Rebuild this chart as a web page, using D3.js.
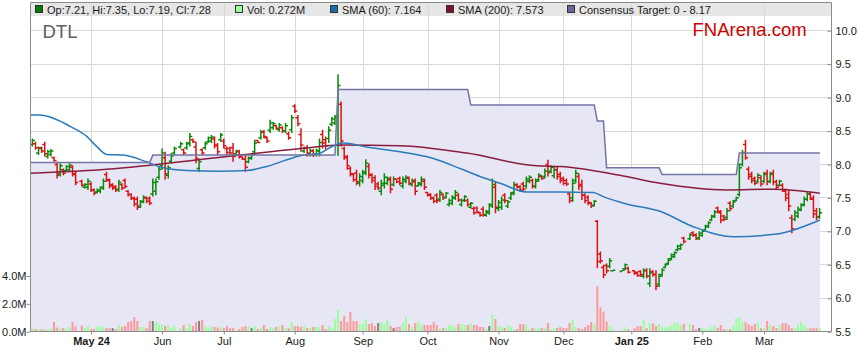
<!DOCTYPE html>
<html>
<head>
<meta charset="utf-8">
<script src="https://cdn.jsdelivr.net/npm/d3@7"></script>
<style>
  html, body { margin: 0; padding: 0; background: #fff; }
  svg { display: block; font-family: 'Liberation Sans', Arial, sans-serif; }
</style>
</head>
<body>
<svg id="chart" width="859" height="363"></svg>
<script>
// daily bars, one slot per weekday from 4 Apr 2024 (null = ASX holiday)
const opens = [
  8.30,8.31,8.17,8.25,8.30,8.12,8.15,8.10,8.00,7.86,
  7.92,7.91,7.92,7.96,7.85,null,7.75,7.66,7.66,7.71,
  7.62,7.59,7.60,7.66,7.85,7.76,7.70,7.67,7.63,7.70,
  7.76,7.60,7.55,7.49,7.48,7.38,7.45,7.50,7.49,7.56,
  7.60,7.81,7.98,8.10,7.84,8.05,8.17,null,8.26,8.22,
  8.25,8.32,8.37,8.26,7.94,8.22,8.25,8.34,8.35,8.38,
  8.28,8.37,8.35,8.24,8.24,8.25,8.16,8.19,8.11,8.08,
  8.04,8.09,8.19,8.36,8.40,8.49,8.40,8.51,8.55,8.58,
  8.52,8.55,8.50,8.46,8.52,8.87,8.70,8.45,8.20,8.25,
  8.15,8.20,8.15,8.20,8.45,8.37,8.39,8.60,8.62,8.72,
  8.90,8.24,8.10,7.94,7.85,7.87,7.72,7.76,7.89,7.97,
  7.84,7.80,7.71,7.60,7.69,7.72,7.77,7.70,7.78,7.79,
  7.68,7.75,7.79,7.70,7.74,7.68,7.70,7.75,7.58,7.55,
  7.50,7.54,7.48,7.55,7.51,7.40,7.42,7.50,7.54,7.40,
  7.46,7.46,7.36,7.34,7.35,7.28,7.33,7.24,7.28,7.40,
  7.66,7.34,7.36,7.54,7.38,7.50,7.58,7.70,7.67,7.71,
  7.68,7.75,7.76,7.67,7.77,7.82,7.82,8.00,7.90,7.83,
  7.92,7.85,7.79,7.76,7.56,7.50,7.76,7.82,7.70,7.54,
  7.51,7.42,7.39,7.15,6.66,6.46,6.49,6.48,6.41,null,
  null,6.40,6.44,6.45,null,6.41,6.39,6.40,6.33,6.42,
  6.22,6.40,6.36,6.21,6.35,6.46,6.52,6.59,6.62,6.72,
  6.74,6.90,null,6.89,6.98,6.95,6.90,6.94,7.02,7.07,
  7.17,7.22,7.35,7.28,7.23,7.21,7.42,7.38,7.46,7.55,
  8.00,8.30,7.93,7.85,7.79,7.75,7.80,7.75,7.87,7.75,
  7.87,7.74,7.69,7.69,7.60,7.55,7.20,7.18,7.23,7.32,
  7.40,7.48,7.56,7.48,7.31,7.21
];
const highs = [
  8.39,8.34,8.27,8.27,8.34,8.22,8.23,8.12,8.04,8.02,
  7.94,7.99,8.02,7.99,7.89,null,7.77,7.72,7.79,7.74,
  7.64,7.64,7.67,7.79,7.89,7.79,7.72,7.69,7.77,7.72,
  7.79,7.62,7.57,7.52,7.52,7.47,7.54,7.52,7.52,7.79,
  7.79,7.97,8.24,8.19,7.99,8.17,8.27,null,8.34,8.24,
  8.34,8.47,8.39,8.34,8.09,8.24,8.34,8.42,8.44,8.42,
  8.32,8.47,8.39,8.27,8.27,8.32,8.22,8.22,8.12,8.14,
  8.12,8.17,8.37,8.37,8.52,8.52,8.42,8.67,8.64,8.59,
  8.62,8.57,8.62,8.49,8.74,8.90,8.74,8.54,8.27,8.29,
  8.24,8.23,8.24,8.39,8.52,8.42,8.57,8.71,8.74,9.35,
  8.94,8.27,8.14,7.97,7.87,7.92,7.87,7.92,8.08,8.02,
  7.87,7.84,7.74,7.77,7.87,7.82,7.82,7.82,7.79,7.82,
  7.82,7.84,7.82,7.79,7.79,7.74,7.82,7.79,7.59,7.57,
  7.52,7.57,7.62,7.57,7.59,7.49,7.54,7.62,7.57,7.49,
  7.54,7.49,7.44,7.37,7.37,7.29,7.37,7.32,7.42,7.79,
  7.74,7.47,7.52,7.57,7.47,7.59,7.74,7.72,7.69,7.74,
  7.82,7.84,7.79,7.79,7.87,7.84,7.94,8.07,7.99,7.97,
  7.97,7.89,7.82,7.79,7.59,7.79,7.92,7.87,7.77,7.57,
  7.54,7.44,7.47,7.17,6.70,6.50,6.52,6.60,6.42,null,
  null,6.42,6.52,6.47,null,6.42,6.40,6.42,6.45,6.45,
  6.45,6.42,6.42,6.37,6.45,6.52,6.60,6.67,6.70,6.80,
  6.82,6.92,null,6.97,7.00,6.97,7.00,7.02,7.10,7.15,
  7.25,7.32,7.37,7.32,7.25,7.35,7.45,7.47,7.52,8.02,
  8.22,8.37,7.97,7.89,7.82,7.87,7.84,7.89,7.92,7.89,
  7.92,7.77,7.77,7.72,7.64,7.62,7.25,7.32,7.37,7.42,
  7.52,7.59,7.59,7.54,7.35,7.35
];
const lows = [
  8.27,8.22,8.14,8.17,8.12,8.09,8.12,8.04,7.79,7.82,
  7.84,7.89,7.89,7.82,7.69,null,7.67,7.64,7.62,7.59,
  7.54,7.57,7.57,7.62,7.74,7.64,7.62,7.59,7.59,7.62,
  7.64,7.52,7.47,7.37,7.32,7.35,7.42,7.42,7.39,7.52,
  7.54,7.77,7.92,7.77,7.79,8.02,8.14,null,8.24,8.14,
  8.22,8.27,8.32,8.02,7.89,8.14,8.22,8.32,8.32,8.24,
  8.14,8.34,8.24,8.14,8.14,8.04,8.14,8.09,8.07,7.89,
  8.02,8.07,8.14,8.32,8.37,8.39,8.32,8.47,8.52,8.52,
  8.49,8.47,8.47,8.37,8.47,8.77,8.57,8.19,8.17,8.12,
  8.12,8.11,8.12,8.12,8.24,8.22,8.32,8.57,8.59,8.13,
  8.27,8.07,7.92,7.82,7.74,7.69,7.67,7.72,7.84,7.79,
  7.72,7.62,7.62,7.54,7.64,7.69,7.57,7.67,7.72,7.69,
  7.64,7.72,7.69,7.67,7.54,7.67,7.67,7.62,7.52,7.47,
  7.42,7.42,7.44,7.47,7.49,7.37,7.39,7.47,7.44,7.37,
  7.44,7.37,7.34,7.25,7.27,7.22,7.22,7.22,7.25,7.35,
  7.27,7.30,7.32,7.42,7.35,7.47,7.54,7.64,7.59,7.59,
  7.64,7.72,7.64,7.64,7.74,7.77,7.79,7.82,7.87,7.79,
  7.77,7.72,7.69,7.68,7.42,7.44,7.72,7.62,7.47,7.42,
  7.39,7.35,7.37,6.45,6.52,6.30,6.37,6.45,6.40,null,
  null,6.40,6.42,6.37,null,6.35,6.32,6.32,6.30,6.30,
  6.17,6.32,6.12,6.17,6.32,6.45,6.50,6.57,6.60,6.70,
  6.72,6.82,null,6.87,6.92,6.87,6.87,6.92,7.00,7.05,
  7.15,7.20,7.27,7.12,7.15,7.17,7.30,7.35,7.45,7.52,
  7.97,8.07,7.77,7.72,7.69,7.72,7.67,7.72,7.69,7.72,
  7.69,7.62,7.67,7.59,7.45,7.30,6.97,7.15,7.20,7.30,
  7.37,7.45,7.47,7.20,7.17,7.19
];
const closes = [
  8.36,8.25,8.24,8.20,8.16,8.19,8.20,8.06,7.84,7.98,
  7.87,7.97,7.99,7.86,7.73,null,7.69,7.70,7.75,7.62,
  7.57,7.62,7.65,7.75,7.77,7.68,7.65,7.62,7.73,7.65,
  7.67,7.55,7.50,7.41,7.36,7.44,7.51,7.45,7.42,7.73,
  7.74,7.93,8.17,7.86,7.95,8.13,8.24,null,8.31,8.17,
  8.31,8.42,8.34,8.09,8.04,8.17,8.31,8.40,8.41,8.29,
  8.19,8.44,8.28,8.18,8.17,8.12,8.20,8.12,8.08,7.96,
  8.10,8.15,8.32,8.33,8.48,8.42,8.35,8.62,8.61,8.54,
  8.59,8.50,8.58,8.40,8.70,8.80,8.61,8.29,8.25,8.17,
  8.21,8.15,8.21,8.33,8.32,8.28,8.51,8.68,8.70,9.18,
  8.35,8.12,7.98,7.86,7.77,7.74,7.82,7.87,8.02,7.85,
  7.76,7.67,7.65,7.72,7.81,7.79,7.63,7.78,7.74,7.72,
  7.78,7.81,7.72,7.76,7.60,7.72,7.78,7.66,7.54,7.50,
  7.45,7.46,7.58,7.50,7.57,7.46,7.51,7.58,7.47,7.46,
  7.52,7.40,7.42,7.28,7.29,7.24,7.25,7.30,7.38,7.70,
  7.36,7.43,7.47,7.46,7.44,7.56,7.69,7.66,7.62,7.63,
  7.78,7.81,7.68,7.75,7.84,7.79,7.90,7.88,7.96,7.92,
  7.82,7.76,7.72,7.71,7.46,7.72,7.87,7.68,7.54,7.46,
  7.43,7.38,7.45,6.55,6.56,6.35,6.41,6.56,6.42,null,
  null,6.42,6.50,6.39,null,6.37,6.34,6.35,6.41,6.33,
  6.38,6.35,6.18,6.33,6.42,6.50,6.57,6.65,6.68,6.78,
  6.80,6.85,null,6.95,6.94,6.89,6.97,7.00,7.08,7.13,
  7.23,7.29,7.30,7.17,7.18,7.31,7.34,7.44,7.50,7.95,
  8.18,8.10,7.82,7.76,7.72,7.84,7.71,7.85,7.74,7.85,
  7.74,7.66,7.75,7.62,7.50,7.38,7.04,7.28,7.33,7.39,
  7.48,7.56,7.50,7.26,7.22,7.28
];
// volume in millions
const volumes = [
  .24,.19,.19,.19,.12,.19,.24,.69,.30,.26,
  .26,.19,.34,.69,.38,null,.45,.26,.41,.19,
  .19,.34,.41,.34,.26,.26,.26,.19,.48,.34,
  .41,.69,.77,1.05,.77,.34,.34,.26,.77,.77,
  .69,.55,.48,.41,.48,.26,.41,null,.26,.48,
  .26,.55,.41,.69,.77,.84,.41,.26,.41,.34,
  .30,.34,.26,.41,.26,.26,.12,.19,.34,.41,
  .41,.26,.41,.19,.26,.48,.19,.34,.26,.34,
  .41,.48,.26,.26,.69,.41,.41,.34,.41,.26,
  .26,.34,.34,.34,.48,.19,.41,.26,.91,1.56,
  .77,1.13,.69,1.41,.77,.77,.55,.55,.91,.55,
  .62,.41,.62,.69,.55,.84,.41,.26,.34,.34,
  .62,1.05,.55,.34,.62,.69,.48,.48,.48,.48,
  .69,.48,.26,.26,.26,.48,.48,.34,.55,.55,
  .48,.48,.62,.48,.48,.34,.34,.19,.41,1.2,
  .91,.41,.34,.26,.48,.34,.19,.19,.55,.55,
  .48,.19,.26,.26,.26,.26,.26,.62,.19,.26,
  .26,.34,.26,.26,.62,.84,.34,.26,.19,.34,
  .48,.69,.55,3.28,1.75,1.44,.72,.41,.19,null,
  null,.12,.31,.17,null,.24,.41,.41,.89,.24,
  .60,.60,.41,.55,.36,.31,.36,.48,.65,.62,
  .48,.55,null,.55,.48,.19,.26,.26,.19,.19,
  .34,.41,.26,.48,.19,.19,.19,.41,.98,1.05,
  .69,.69,.55,.41,.55,.69,.26,.26,.77,.48,
  .41,.26,.48,.62,.62,.48,.26,.26,.48,.69,
  .48,.26,.26,.26,.26,.272
];
const flatVolDays = [26, 39, 54, 71, 112, 117, 148, 216]; //grey volume bars

// moving averages as [slot, price]
const sma60 = [
  [-0.45,8.74],[2.5,8.74],[6.8,8.69],[12.2,8.57],[17.6,8.42],[20.8,8.27],[24.1,8.15],
  [29.4,8.14],[37,8.04],[42.4,7.95],[50,7.91],[60.8,7.90],[69.4,7.91],[75.9,7.97],
  [82.4,8.07],[86.7,8.13],[93.2,8.17],[97.5,8.28],[100.7,8.32],[108.3,8.26],[119.1,8.19],
  [129.9,8.09],[138.5,7.94],[145,7.82],[151.5,7.72],[160.1,7.59],[170.9,7.59],[181.7,7.58],
  [184.9,7.52],[192.5,7.41],[203.3,7.30],[214.1,7.07],[227.1,6.92],[241.1,6.96],[255.1,7.17]
];
const sma200 = [
  [-0.45,7.87],[22,7.92],[54,8.07],[87,8.24],[100,8.29],[119,8.28],[140.7,8.17],
  [163.4,7.98],[171,7.97],[190.3,7.84],[203.3,7.72],[224.9,7.62],[240,7.63],[255.1,7.57]
];

// consensus target steps
const targetFrom = [0, 39, 99, 142, 183, 186, 204, 229];
const targetValue = [8.03, 8.14, 9.12, 8.89, 8.65, 7.95, 7.85, 8.17];

const monthIdx = [19, 42, 62, 85, 107, 128, 151, 172, 194, 217, 237];
const monthLabels = ['May 24', 'Jun', 'Jul', 'Aug', 'Sep', 'Oct', 'Nov', 'Dec', 'Jan 25', 'Feb', 'Mar'];
const priceTicks = [5.5, 6, 6.5, 7, 7.5, 8, 8.5, 9, 9.5, 10];
const volTicks = [0, 2, 4];

const N = highs.length;
const pLeft = 30.5, pRight = 831.5, pTop = 2.5, pBottom = 331.5;

const svg = d3.select('#chart');
const x = d3.scaleLinear().domain([0, N - 1]).range([32.4, 819.6]);
const y = d3.scaleLinear().domain([5.5, 10]).range([331.7, 30.7]);
const yVol = d3.scaleLinear().domain([0, 4]).range([331.7, 276]);

// legend strip
svg.append('rect').attr('x', pLeft).attr('y', pTop).attr('width', pRight - pLeft).attr('height', 13.5)
  .attr('fill', '#e6e6e6');

// grid
svg.append('g').selectAll('line').data(priceTicks).join('line')
  .attr('x1', pLeft).attr('x2', pRight)
  .attr('y1', d => Math.floor(y(d)) + 0.5).attr('y2', d => Math.floor(y(d)) + 0.5)
  .attr('stroke', '#d9d9d9');
svg.append('g').selectAll('line').data(monthIdx).join('line')
  .attr('x1', d => Math.round(x(d)) + 0.5).attr('x2', d => Math.round(x(d)) + 0.5)
  .attr('y1', pTop).attr('y2', pBottom)
  .attr('stroke', '#d9d9d9');

// consensus target shading + line
const targetPts = [];
targetFrom.forEach((s, k) => {
  const a = k === 0 ? x.invert(pLeft) : s;
  const b = k < targetFrom.length - 1 ? targetFrom[k + 1] - 1 : N - 0.9;
  targetPts.push([a, targetValue[k]], [b, targetValue[k]]);
});
svg.append('path').datum(targetPts)
  .attr('d', d3.area().x(d => x(d[0])).y0(y(5.5)).y1(d => y(d[1])))
  .attr('fill', '#e6e6f5');

// volume
const days = d3.range(N).filter(i => highs[i] != null);
svg.append('g').selectAll('rect').data(days.filter(i => volumes[i] != null)).join('rect')
  .attr('x', i => x(i) - 1).attr('width', 2)
  .attr('y', i => yVol(volumes[i])).attr('height', i => yVol(0) - yVol(volumes[i]))
  .attr('fill', i => flatVolDays.includes(i) ? '#808080' : (closes[i] >= opens[i] ? '#99ff99' : '#ff9999'));

// ohlc bars
svg.append('g').selectAll('path').data(days).join('path')
  .attr('d', i => {
    const xi = x(i);
    return `M${xi},${y(highs[i])}V${y(lows[i])}M${xi - 2.5},${y(opens[i])}H${xi}M${xi},${y(closes[i])}H${xi + 2.5}`;
  })
  .attr('fill', 'none').attr('stroke-width', 1.5)
  .attr('stroke', i => closes[i] >= opens[i] ? '#078a07' : '#dd1111');

// indicator lines
const line = d3.line().x(d => x(d[0])).y(d => y(d[1])).curve(d3.curveMonotoneX);
svg.append('path').datum(sma200).attr('d', line).attr('fill', 'none')
  .attr('stroke', '#8a1c3e').attr('stroke-width', 1.5);
svg.append('path').datum(sma60).attr('d', line).attr('fill', 'none')
  .attr('stroke', '#2b7bbb').attr('stroke-width', 1.5);
svg.append('path').datum(targetPts).attr('d', d3.line().x(d => x(d[0])).y(d => y(d[1])))
  .attr('fill', 'none').attr('stroke', '#7474a4').attr('stroke-width', 1.5);

// frame
svg.append('path').attr('d', `M${pLeft},${pBottom}V${pTop}H${pRight}V${pBottom}H${pLeft}`)
  .attr('stroke', '#8c8c8c').attr('fill', 'none');

// axes
const axisFont = g => g.attr('font-family', null).attr('font-size', null)
  .call(s => s.select('.domain').remove())
  .call(s => s.selectAll('line').attr('stroke', '#8c8c8c'))
  .call(s => s.selectAll('text').attr('fill', '#1a1a1a').style('font-size', '11px'));

svg.append('g').attr('transform', `translate(0,${pBottom})`)
  .call(d3.axisBottom(x).tickValues(monthIdx).tickFormat((d, i) => monthLabels[i]).tickSize(3).tickPadding(3))
  .call(axisFont)
  .call(g => g.selectAll('text').style('font-weight', (d, i) => monthLabels[i].includes(' ') ? 'bold' : 'normal'));

svg.append('g').attr('transform', `translate(${pRight},0)`)
  .call(d3.axisRight(y).tickValues(priceTicks).tickFormat(d3.format('.1f')).tickSizeInner(-4).tickSizeOuter(0).tickPadding(4))
  .call(axisFont);

svg.append('g').attr('transform', `translate(${pLeft},0)`)
  .call(d3.axisLeft(yVol).tickValues(volTicks).tickFormat(d => d.toFixed(1) + 'M').tickSize(4).tickPadding(0))
  .call(axisFont);

// legend
const legendItems = [
  { x: 35.5, color: '#007a00', text: 'Op:7.21, Hi:7.35, Lo:7.19, Cl:7.28' },
  { x: 235.5, color: '#99ff99', text: 'Vol: 0.272M' },
  { x: 330.5, color: '#1a6cab', text: 'SMA (60): 7.164' },
  { x: 446.5, color: '#7c1030', text: 'SMA (200): 7.573' },
  { x: 567.5, color: '#66669a', text: 'Consensus Target: 0 - 8.17' }
];
const legend = svg.append('g').selectAll('g').data(legendItems).join('g');
legend.append('rect').attr('x', d => d.x).attr('y', 5.5).attr('width', 7).attr('height', 7)
  .attr('fill', d => d.color).attr('stroke', '#333');
legend.append('text').attr('x', d => d.x + 11.5).attr('y', 13.5)
  .style('font-size', '11px').attr('fill', '#1a1a1a').text(d => d.text);

svg.append('text').attr('x', 42.5).attr('y', 38.3).style('font-size', '18.5px')
  .attr('fill', '#5b6066').text('DTL');
svg.append('text').attr('x', 806.7).attr('y', 36).attr('text-anchor', 'end')
  .style('font-size', '18.5px').attr('fill', '#cc0000').text('FNArena.com');
</script>
</body>
</html>
